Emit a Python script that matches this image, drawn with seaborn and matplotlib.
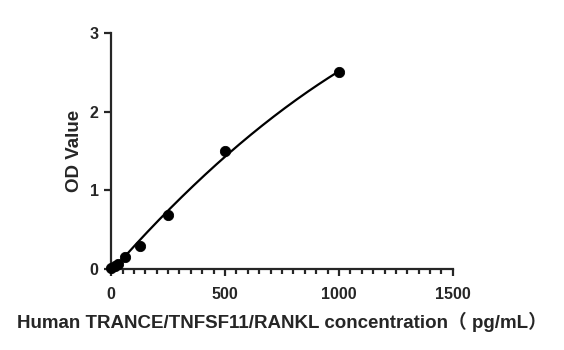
import numpy as np
import pandas as pd
import matplotlib
matplotlib.use("Agg")
import matplotlib.pyplot as plt
import seaborn as sns
from matplotlib.ticker import MultipleLocator

conc = [0, 15.6, 31.25, 62.5, 125, 250, 500, 1000]
od = [0.02, 0.04, 0.07, 0.15, 0.30, 0.69, 1.50, 2.50]
xticks = [0, 500, 1000, 1500]
yticks = [0, 1, 2, 3]
xlabel = "Human TRANCE/TNFSF11/RANKL concentration\uff08 pg/mL\uff09"
ylabel = "OD Value"

sns.set_style("ticks")
plt.rcParams['font.family'] = ['Liberation Sans', 'Noto Sans CJK SC', 'DejaVu Sans']
plt.rcParams['font.weight'] = 'bold'

df = pd.DataFrame({"conc": conc, "od": od})
coef = np.polyfit(df.conc, df.od, 2)
xf = np.linspace(0, 1000, 200)
fit = pd.DataFrame({"conc": xf, "od": np.polyval(coef, xf)})

fig = plt.figure(figsize=(5.64, 3.5), dpi=100)
ax = fig.add_axes([0.197, 0.231, 0.606, 0.675])
sns.lineplot(data=fit, x="conc", y="od", color="black", lw=1.6, ax=ax)
sns.scatterplot(data=df, x="conc", y="od", color="black", s=55, edgecolor="black", ax=ax, zorder=5, clip_on=False)

ax.set_xlim(0, 1500)
ax.set_ylim(0, 3)
ax.set_xticks(xticks)
ax.set_yticks(yticks)
ax.xaxis.set_minor_locator(MultipleLocator(50))
ax.tick_params(axis='both', which='major', length=5, width=1.6, labelsize=11.5)
ax.tick_params(axis='x', which='major', pad=8)
ax.tick_params(axis='y', which='major', pad=4)
ax.tick_params(axis='x', which='minor', length=3.5, width=1.6)
for lab in ax.get_xticklabels() + ax.get_yticklabels():
    lab.set_fontweight('bold')
for s in ['left', 'bottom']:
    ax.spines[s].set_linewidth(1.6)
sns.despine(ax=ax)
ax.set_xlabel(xlabel, fontsize=13.5, fontweight='bold', labelpad=7)
ax.set_ylabel(ylabel, fontsize=13.5, fontweight='bold', labelpad=5)
fig.savefig("out.png", dpi=100)
